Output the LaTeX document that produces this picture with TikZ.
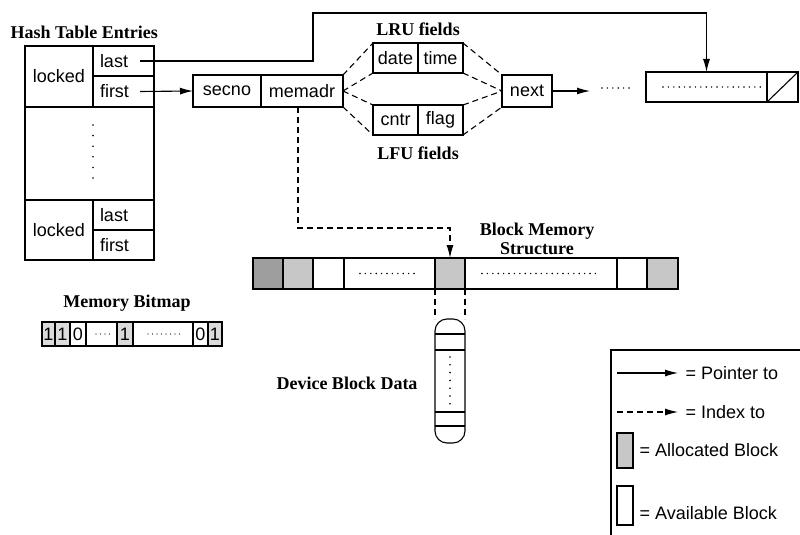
\documentclass[tikz,border=0pt]{standalone}
\usepackage{fontspec}
\setmainfont{Liberation Serif}
\setsansfont{Liberation Sans}
\usetikzlibrary{arrows.meta,positioning,calc}

\colorlet{allocdark}{black!38}
\colorlet{alloc}{black!22}
\colorlet{bitshade}{black!14}

\begin{document}
\begin{tikzpicture}[
  x=1pt, y=-1pt,
  font=\sffamily\fontsize{18}{20}\selectfont,
  line width=1.1pt,
  cell/.style={draw, line width=1.1pt, inner sep=0pt, outer sep=0pt},
  ptrcell/.style={cell, text width=47pt, inner xsep=7pt, align=left, minimum width=61pt},
  title/.style={font=\rmfamily\bfseries\fontsize{18}{19}\selectfont, align=center, inner sep=0pt},
  legtext/.style={anchor=west, inner sep=0pt},
  ptr/.style={-{Latex[length=13pt,width=7pt]}, line width=1.1pt},
  idx/.style={-{Latex[length=13pt,width=7pt]}, line width=1.1pt, dash pattern=on 6pt off 4pt},
  fan/.style={line width=1.1pt, dash pattern=on 6pt off 4pt},
  dotrow/.style={line width=1.6pt, line cap=round, dash pattern=on 0pt off 5.4pt},
  dotcol/.style={line width=1.8pt, line cap=round, dash pattern=on 0pt off 10.6pt}
]
\useasboundingbox (0,0) rectangle (800,535);

% hash table
\node[title, anchor=west] (httitle) at (10,32) {Hash Table Entries};
\node[cell, minimum width=68pt, minimum height=61pt] (lock1) at (59,76.5) {locked};
\node[ptrcell, minimum height=30pt, anchor=north west] (last1) at (lock1.north east) {last};
\node[ptrcell, minimum height=31pt, anchor=north west] (first1) at (last1.south west) {first};
\node[cell, minimum width=129pt, minimum height=93pt, anchor=north west] (htmid) at (lock1.south west) {};
\node[cell, minimum width=68pt, minimum height=60pt, anchor=north west] (lock2) at (htmid.south west) {locked};
\node[ptrcell, minimum height=30pt, anchor=north west] (last2) at (lock2.north east) {last};
\node[ptrcell, minimum height=30pt, anchor=north west] (first2) at (last2.south west) {first};
\draw[dotcol] ($(htmid.north west)+(68,18)$) -- ++(0,53);

\coordinate (lastp) at ($(last1.east)+(-14,0)$);
\coordinate (firstp) at ($(first1.east)+(-14,0)$);

% buffer entry and its fields
\node[cell, minimum width=68pt, minimum height=32pt] (secno) at (227,91) {secno};
\node[cell, minimum width=82pt, minimum height=32pt, right=0pt of secno] (memadr) {memadr};

\node[title] (lrutitle) at (418,29) {LRU fields};
\node[cell, minimum width=45pt, minimum height=30pt] (date) at (395.5,58) {date};
\node[cell, minimum width=45pt, minimum height=30pt, right=0pt of date] (time) {time};
\node[cell, minimum width=45pt, minimum height=30pt] (cntr) at (395.5,120) {cntr};
\node[cell, minimum width=45pt, minimum height=30pt, right=0pt of cntr] (flag) {flag};
\node[title] (lfutitle) at (418,153) {LFU fields};

\node[cell, minimum width=50pt, minimum height=32pt] (next) at (527,91) {next};

\node[cell, minimum width=121pt, minimum height=30pt] (tail) at (706.5,87) {};
\node[cell, minimum width=31pt, minimum height=30pt, right=0pt of tail] (nil) {};
\draw (nil.south west) -- (nil.north east);
\draw[dotrow] ($(tail.west)+(17,0)$) -- ($(tail.east)+(-6,0)$);

\coordinate (bendtop) at (313,13);
\coordinate (nextp) at (590,91);
\coordinate (moreL) at (602,88);
\coordinate (moreR) at (629,88);

\draw[ptr] (lastp) -| (bendtop) -| (tail.north);
\draw[ptr] (firstp) -- (secno.west);
\draw[ptr] (next.east) -- (nextp);
\draw[dotrow] (moreL) -- (moreR);

\draw[fan] (memadr.north east) -- (date.north west);
\draw[fan] (memadr.east) -- (date.south west);
\draw[fan] (memadr.east) -- (cntr.north west);
\draw[fan] (memadr.south east) -- (cntr.south west);
\draw[fan] (time.north east) -- (next.north west);
\draw[fan] (time.south east) -- (next.west);
\draw[fan] (flag.north east) -- (next.west);
\draw[fan] (flag.south east) -- (next.south west);

% block memory structure
\node[title] (bmtitle) at (537,239) {Block Memory\\Structure};
\node[cell, fill=allocdark, minimum width=30pt, minimum height=31pt] (bm1) at (268,273.5) {};
\node[cell, fill=alloc, minimum width=30pt, minimum height=31pt, right=0pt of bm1] (bm2) {};
\node[cell, minimum width=31pt, minimum height=31pt, right=0pt of bm2] (bm3) {};
\node[cell, minimum width=91pt, minimum height=31pt, right=0pt of bm3] (bm4) {};
\node[cell, fill=alloc, minimum width=30pt, minimum height=31pt, right=0pt of bm4] (bm5) {};
\node[cell, minimum width=152pt, minimum height=31pt, right=0pt of bm5] (bm6) {};
\node[cell, minimum width=30pt, minimum height=31pt, right=0pt of bm6] (bm7) {};
\node[cell, fill=alloc, minimum width=31pt, minimum height=31pt, right=0pt of bm7] (bm8) {};
\draw[dotrow] ($(bm4.west)+(16,0)$) -- ($(bm4.east)+(-20,0)$);
\draw[dotrow] ($(bm6.west)+(17,0)$) -- ($(bm6.east)+(-19,0)$);

\draw[idx] ($(memadr.south)+(-4,0)$) -- ++(0,121) -| (bm5.north);

% device block data
\node[title] (devtitle) at (347,383) {Device Block Data};
\node[cell, rounded corners=12pt, minimum width=30pt, minimum height=124pt] (disk) at (450,381) {};
\foreach \d in {15,31}
  \draw ($(disk.north west)+(0,\d)$) -- ($(disk.north east)+(0,\d)$);
\foreach \d in {17,31}
  \draw ($(disk.south west)+(0,-\d)$) -- ($(disk.south east)+(0,-\d)$);
\draw[dotcol, dash pattern=on 0pt off 7.8pt] ($(disk.north)+(0,38)$) -- ($(disk.north)+(0,85)$);
\draw[fan] (bm5.south west) -- (disk.north west);
\draw[fan] (bm5.south east) -- (disk.north east);

% memory bitmap
\node[title] (mbtitle) at (127,303) {Memory Bitmap};
\node[cell, fill=bitshade, minimum width=13pt, minimum height=24pt] (bit1) at (48.5,334) {1};
\node[cell, fill=bitshade, minimum width=15pt, minimum height=24pt, right=0pt of bit1] (bit2) {1};
\node[cell, minimum width=16pt, minimum height=24pt, right=0pt of bit2] (bit3) {0};
\node[cell, minimum width=31pt, minimum height=24pt, right=0pt of bit3] (bit4) {};
\node[cell, fill=bitshade, minimum width=16pt, minimum height=24pt, right=0pt of bit4] (bit5) {1};
\node[cell, minimum width=60pt, minimum height=24pt, right=0pt of bit5] (bit6) {};
\node[cell, minimum width=15pt, minimum height=24pt, right=0pt of bit6] (bit7) {0};
\node[cell, fill=bitshade, minimum width=14pt, minimum height=24pt, right=0pt of bit7] (bit8) {1};
\draw[dotrow, line width=1.2pt, dash pattern=on 0pt off 4.5pt] ($(bit4.west)+(10,0)$) -- ($(bit4.east)+(-5,0)$);
\draw[dotrow, line width=1.2pt, dash pattern=on 0pt off 4.5pt] ($(bit6.west)+(15,0)$) -- ($(bit6.east)+(-10,0)$);

% legend
\draw (611,535) |- (800,350);
\node[legtext] (lgptr) at (685,373) {= Pointer to};
\node[legtext] (lgidx) at (685,412) {= Index to};
\coordinate (lgptrL) at (617,373);
\coordinate (lgidxL) at (617,412);
\draw[ptr, shorten >=7pt] (lgptrL) -- (lgptr.west);
\draw[idx, shorten >=7pt] (lgidxL) -- (lgidx.west);
\node[cell, fill=alloc, minimum width=16pt, minimum height=35pt] (lgalloc) at (625,450.5) {};
\node[legtext] (lgalloctxt) at (639,450) {= Allocated Block};
\node[cell, minimum width=16pt, minimum height=39pt] (lgfree) at (625,505.5) {};
\node[legtext] (lgfreetxt) at (639,513) {= Available Block};

\end{tikzpicture}
\end{document}
